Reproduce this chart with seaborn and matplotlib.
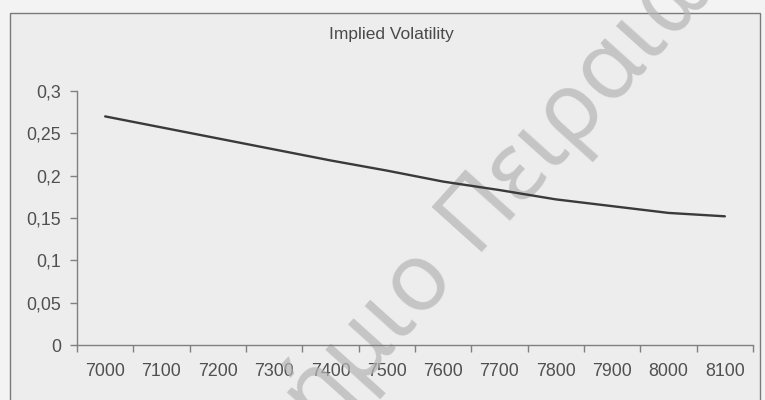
import numpy as np
import pandas as pd
import matplotlib
matplotlib.use("Agg")
import matplotlib.pyplot as plt
from matplotlib.patches import Rectangle
import seaborn as sns

# Strike prices (categories) and implied volatility per strike
strikes = [7000, 7100, 7200, 7300, 7400, 7500, 7600, 7700, 7800, 7900, 8000, 8100]
implied_vol = [0.270, 0.257, 0.244, 0.231, 0.218, 0.206, 0.193, 0.183, 0.172, 0.164, 0.156, 0.152]
y_ticks = [0, 0.05, 0.1, 0.15, 0.2, 0.25, 0.3]
y_tick_labels = ["0", "0,05", "0,1", "0,15", "0,2", "0,25", "0,3"]
title = "Implied Volatility"
watermark_words = ["Πανεπιστήμιο", "Πειραιώς"]

sns.set_theme(style="white")
plt.rcParams["font.family"] = ["Liberation Sans", "DejaVu Sans"]

df = pd.DataFrame({"pos": np.arange(len(strikes)), "vol": implied_vol})

W, H = 765, 400
fig = plt.figure(figsize=(W / 100, H / 100), dpi=100, facecolor="#f3f3f3")
# chart area frame
fig.add_artist(Rectangle((10 / W, -0.05), 750 / W, 1.05 - 13 / H,
                         transform=fig.transFigure, facecolor="#ededed",
                         edgecolor="#7a7a7a", linewidth=1.0, zorder=0))

ax = fig.add_axes([77 / W, 1 - 345 / H, (753 - 77) / W, (345 - 91) / H])
ax.set_facecolor("none")

sns.lineplot(data=df, x="pos", y="vol", ax=ax, color="#3a3a3a", linewidth=1.7, zorder=3)

n = len(strikes)
ax.set_xlim(-0.5, n - 0.5)
ax.set_ylim(0, 0.3)
ax.set_xlabel("")
ax.set_ylabel("")

# category labels at centres, tick marks at category boundaries
ax.set_xticks(np.arange(n))
ax.set_xticklabels([str(s) for s in strikes])
ax.set_xticks(np.arange(n + 1) - 0.5, minor=True)
ax.tick_params(axis="x", which="major", length=0, pad=13, labelsize=12.8, labelcolor="#505050")
ax.tick_params(axis="x", which="minor", length=5, width=1.0, color="#808080", direction="out", bottom=True)

ax.set_yticks(y_ticks)
ax.set_yticklabels(y_tick_labels)
ax.tick_params(axis="y", which="major", length=5, width=1.0, color="#808080", direction="out",
               left=True, pad=6.5, labelsize=12.8, labelcolor="#505050")

for side in ["top", "right"]:
    ax.spines[side].set_visible(False)
for side in ["left", "bottom"]:
    ax.spines[side].set_color("#808080")
    ax.spines[side].set_linewidth(1.0)

fig.text(391 / W, 1 - 34 / H, title, ha="center", va="center", fontsize=12.5,
         color="#4a4a4a")

# repository watermark, set diagonally across the chart
angle = 48
wm_style = dict(rotation=angle, rotation_mode="anchor", va="baseline", fontsize=68,
                color="#b4b4b4", alpha=0.7, family=["Noto Sans", "DejaVu Sans"],
                transform=fig.transFigure, clip_on=False, zorder=1)
ax.text(455 / W, 1 - 272 / H, watermark_words[0], ha="right", **wm_style)
ax.text(473 / W, 1 - 252 / H, watermark_words[1], ha="left", **wm_style)

fig.savefig("out.png", dpi=100, facecolor=fig.get_facecolor())
